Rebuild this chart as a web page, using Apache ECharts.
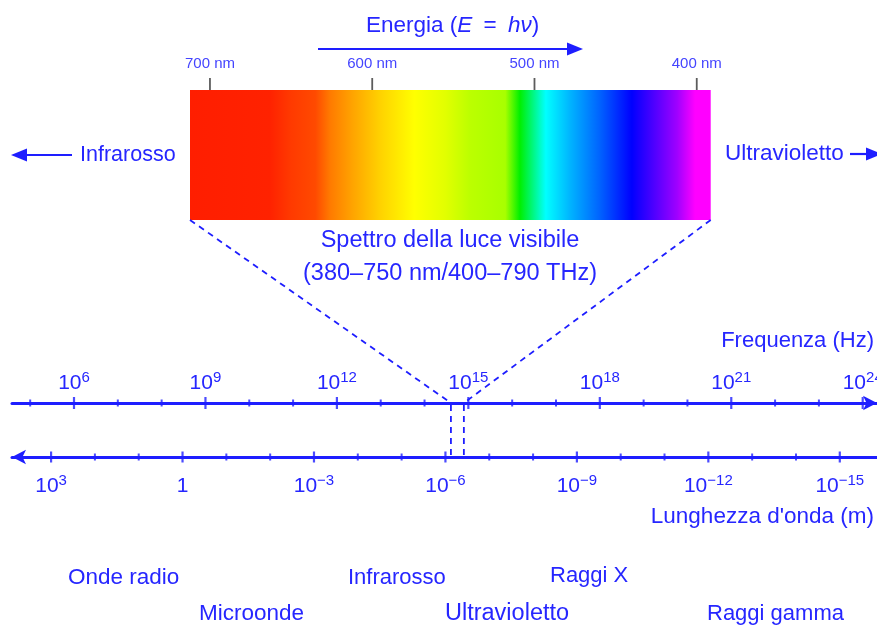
<!DOCTYPE html>
<html><head><meta charset="utf-8">
<script src="https://cdn.jsdelivr.net/npm/echarts@6/dist/echarts.min.js"></script>
<style>html,body{margin:0;padding:0;background:#fff}#c{width:877px;height:626px}</style>
</head><body><div id="c"></div>
<script>
// ---------------- data ----------------
const freqTickDecades = [5,6,7,8,9,10,11,12,13,14,15,16,17,18,19,20,21,22,23,24];   // log10(Hz)
const freqLabelDecades = [6,9,12,15,18,21,24];
const waveTickDecades = [3,2,1,0,-1,-2,-3,-4,-5,-6,-7,-8,-9,-10,-11,-12,-13,-14,-15]; // log10(m)
const waveLabelDecades = [3,0,-3,-6,-9,-12,-15];
const nmTicks = [700,600,500,400];
const barSpanNm = [712.3, 391.4];          // wavelength span shown by the colour bar
const visibleTHz = [400, 790];             // visible band on the frequency axis
const spectrumNm = [712,663,650,635,626,612,595,574,555,540,518,509,493,478,460,440,426,412,401,391];
const spectrumColors = ['#ff1e00','#ff2200','#ff3a00','#ff4a00','#ff7a00','#ffa400','#ffd200','#ffff00','#e2ff00','#bcff00',
                        '#a8ff00','#00f000','#00ffff','#00b4ff','#0064ff','#0000ff','#5000ff','#a000ff','#ff00ff','#ff00ff'];
const bandsRow1 = ['Onde radio','Infrarosso','Raggi X'];
const bandsRow2 = ['Microonde','Ultravioletto','Raggi gamma'];
const texts = {
  energy: 'Energia ({i|E}\u2002=\u2002{i|hν})',
  ir: 'Infrarosso', uv: 'Ultravioletto',
  spec1: 'Spettro della luce visibile', spec2: '(380–750 nm/400–790 THz)',
  freq: 'Frequenza (Hz)', wave: "Lunghezza d'onda (m)"
};

// ---------------- layout / style ----------------
const BLUE = '#1e1eff', TXT = '#2626ff', NMTXT = '#4444ff';
const FONT = '"Liberation Sans", Arial, sans-serif';
const LOGC = Math.log10(299792458);
const fMin = 4.585, fMax = 24.326;

const supFmt = v => '{b|10}{s|' + (v < 0 ? '−' + (-v) : v) + '}';
const labRich = {
  b: {fontSize: 21, fontFamily: FONT, color: TXT, lineHeight: 24, verticalAlign: 'bottom'},
  s: {fontSize: 15, fontFamily: FONT, color: TXT, lineHeight: 15, verticalAlign: 'top'}
};
const gridBase = {outerBoundsMode: 'none', containLabel: false, show: false};

const chart = echarts.init(document.getElementById('c'), null, {renderer: 'canvas'});
const stops = spectrumNm.map((nm, i) => ({
  offset: Math.min(1, Math.max(0, (barSpanNm[0] - nm) / (barSpanNm[0] - barSpanNm[1]))),
  color: spectrumColors[i]
}));

chart.setOption({
  animation: false,
  backgroundColor: '#fff',
  title: {
    text: texts.energy, left: 361, top: 9,
    textStyle: {fontFamily: FONT, fontSize: 22.5, fontWeight: 'normal', color: TXT,
      rich: {i: {fontStyle: 'italic', fontFamily: FONT, fontSize: 22.5, color: TXT}}}
  },
  grid: [
    Object.assign({left: 12, right: 0, top: 300, height: 103}, gridBase),
    Object.assign({left: 12, right: 0, top: 457, height: 100}, gridBase),
    Object.assign({left: 190, right: 166.3, top: 90, height: 130}, gridBase)
  ],
  xAxis: [
    {gridIndex: 0, type: 'value', min: fMin, max: fMax, position: 'bottom',
     axisLine: {show: true, onZero: false, symbol: ['none', 'arrow'], symbolSize: [11, 14], lineStyle: {color: BLUE, width: 3}},
     axisTick: {show: false}, splitLine: {show: false},
     axisLabel: {show: true, inside: true, margin: 9, customValues: freqLabelDecades,
       formatter: v => supFmt(v), rich: labRich}},
    {gridIndex: 1, type: 'value', inverse: true, min: LOGC - fMax, max: LOGC - fMin, position: 'top',
     axisLine: {show: true, onZero: false, symbol: ['arrow', 'none'], symbolSize: [11, 14], lineStyle: {color: BLUE, width: 3}},
     axisTick: {show: false}, splitLine: {show: false},
     axisLabel: {show: true, inside: true, margin: 16, customValues: waveLabelDecades,
       formatter: v => (v === 0 ? '{b|1}' : supFmt(v)), rich: labRich}},
    {gridIndex: 2, type: 'value', inverse: true, min: barSpanNm[1], max: barSpanNm[0], position: 'top',
     axisLine: {show: false, onZero: false}, splitLine: {show: false}, axisTick: {show: false},
     axisLabel: {show: true, customValues: nmTicks, formatter: '{value} nm', margin: 19,
       fontSize: 15, fontFamily: FONT, color: NMTXT}}
  ],
  yAxis: [
    {gridIndex: 0, type: 'value', min: 0, max: 1, show: false},
    {gridIndex: 1, type: 'value', min: 0, max: 1, show: false},
    {gridIndex: 2, type: 'value', min: 0, max: 1, show: false}
  ],
  series: [
    {type: 'scatter', xAxisIndex: 0, yAxisIndex: 0, clip: false, silent: true,
     data: freqTickDecades.map(d => [d, 0]), symbol: 'rect',
     symbolSize: v => (v[0] % 3 === 0 ? [2.2, 12] : [2, 7]), itemStyle: {color: BLUE}},
    {type: 'scatter', xAxisIndex: 1, yAxisIndex: 1, clip: false, silent: true,
     data: waveTickDecades.map(d => [d, 1]), symbol: 'rect',
     symbolSize: v => (v[0] % 3 === 0 ? [2.2, 11] : [2, 7]), itemStyle: {color: BLUE}},
    {type: 'custom', xAxisIndex: 2, yAxisIndex: 2, silent: true,
     data: [[barSpanNm[0], 0, barSpanNm[1], 1]],
     encode: {x: [0, 2], y: [1, 3]},
     renderItem: (p, api) => {
       const a = api.coord([api.value(0), api.value(1)]);
       const b = api.coord([api.value(2), api.value(3)]);
       return {type: 'rect',
         shape: {x: Math.min(a[0], b[0]), y: Math.min(a[1], b[1]), width: Math.abs(b[0] - a[0]), height: Math.abs(b[1] - a[1])},
         style: {fill: new echarts.graphic.LinearGradient(0, 0, 1, 0, stops)}};
     }},
    {type: 'scatter', xAxisIndex: 2, yAxisIndex: 2, clip: false, silent: true,
     data: nmTicks.map(n => [n, 1]), symbol: 'rect', symbolSize: [1.8, 12], symbolOffset: [0, -6],
     itemStyle: {color: '#333'}}
  ]
});

// ---- connectors and annotations (positions taken from the library's scales) ----
const fLo = Math.log10(visibleTHz[0] * 1e12), fHi = Math.log10(visibleTHz[1] * 1e12);
const pBL = chart.convertToPixel({gridIndex: 2}, [barSpanNm[0], 0]);
const pBR = chart.convertToPixel({gridIndex: 2}, [barSpanNm[1], 0]);
const pF1 = chart.convertToPixel({gridIndex: 0}, [fLo, 0]);
const pF2 = chart.convertToPixel({gridIndex: 0}, [fHi, 0]);
const pW1 = chart.convertToPixel({gridIndex: 1}, [LOGC - fLo, 1]);
const pW2 = chart.convertToPixel({gridIndex: 1}, [LOGC - fHi, 1]);

const dash = {stroke: BLUE, lineWidth: 1.8, lineDash: [6, 5]};
const line = (x1, y1, x2, y2, st) => ({type: 'line', shape: {x1, y1, x2, y2}, style: Object.assign({}, st), z: 5});
const solid = {stroke: BLUE, lineWidth: 2.2};
const head = pts => ({type: 'polygon', shape: {points: pts}, style: {fill: BLUE}, z: 5});
const txt = (s, x, y, align, size) => ({type: 'text', x, y, z: 5,
  style: {text: s, fill: TXT, fontSize: size || 22, fontFamily: FONT, textAlign: align || 'left', textVerticalAlign: 'middle'}});

chart.setOption({
  graphic: [
    line(pBL[0], pBL[1], pF1[0], pF1[1], dash),
    line(pBR[0], pBR[1], pF2[0], pF2[1], dash),
    line(pF1[0], pF1[1] + 2, pW1[0], pW1[1] - 2, dash),
    line(pF2[0], pF2[1] + 2, pW2[0], pW2[1] - 2, dash),
    // energy arrow
    line(318, 49, 570, 49, solid), head([[583, 49], [567, 42.5], [567, 55.5]]),
    // infrared / ultraviolet arrows
    line(24, 155, 72, 155, solid), head([[11, 155], [27, 148.5], [27, 161.5]]),
    line(850, 154, 868, 154, solid), head([[882, 154], [866, 147.5], [866, 160.5]]),
    txt(texts.ir, 80, 155, 'left', 21.5), txt(texts.uv, 725, 154, 'left', 22.5),
    txt(texts.spec1, 450, 241, 'center', 23.5), txt(texts.spec2, 450, 274, 'center', 23.5),
    txt(texts.freq, 874, 341, 'right'), txt(texts.wave, 874, 517, 'right', 22.5),
    txt(bandsRow1[0], 68, 578, 'left', 22.5), txt(bandsRow1[1], 348, 578), txt(bandsRow1[2], 550, 576),
    txt(bandsRow2[0], 199, 614, 'left', 22.5), txt(bandsRow2[1], 445, 614, 'left', 23.5), txt(bandsRow2[2], 707, 614)
  ]
});
</script></body></html>
